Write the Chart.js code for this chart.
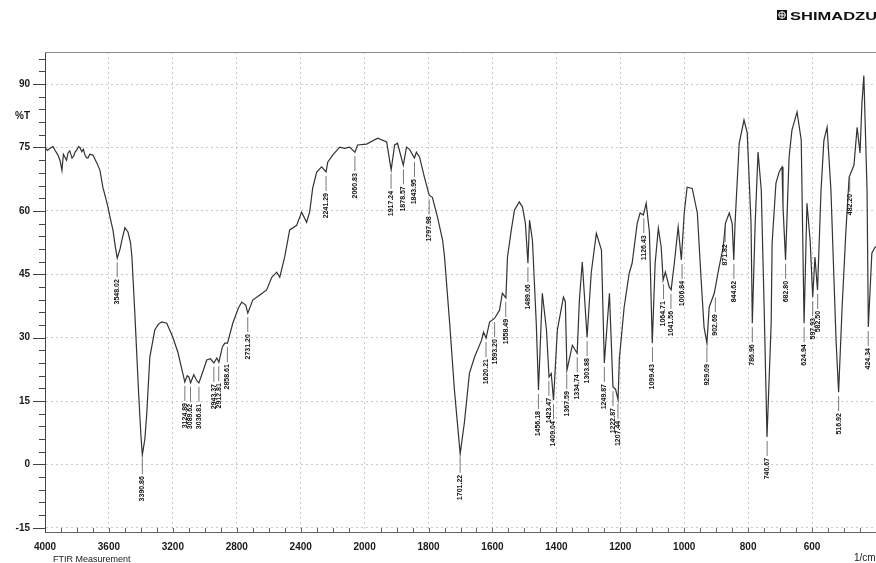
<!DOCTYPE html>
<html>
<head>
<meta charset="utf-8">
<script src="https://cdn.jsdelivr.net/npm/chart.js@4.4.0/dist/chart.umd.min.js"></script>
<style>
  html, body { margin: 0; padding: 0; background: #fff; }
  #wrap { position: relative; width: 876px; height: 563px; }
</style>
</head>
<body>
<div id="wrap"><canvas id="c"></canvas></div>
<script>
// spectrum (1/cm, %T)
const wavenumbers = [
  4000, 3985, 3969, 3950, 3938, 3919, 3905, 3894, 3885, 3875, 3865, 3856, 3845, 3831, 3820, 3812,
  3800, 3790, 3781, 3770, 3760, 3750, 3740, 3731, 3720, 3700, 3688, 3675, 3656, 3638, 3620, 3606,
  3590, 3575, 3560, 3548, 3530, 3519, 3500, 3481, 3465, 3456, 3438, 3413, 3400, 3391, 3375, 3363,
  3344, 3313, 3290, 3269, 3238, 3200, 3169, 3138, 3125, 3110, 3100, 3089, 3069, 3050, 3037, 3019,
  2988, 2965, 2943, 2925, 2912, 2890, 2875, 2858, 2825, 2790, 2769, 2744, 2731, 2700, 2656, 2613,
  2581, 2550, 2531, 2500, 2469, 2425, 2394, 2363, 2344, 2325, 2300, 2269, 2241, 2231, 2200, 2156,
  2125, 2094, 2061, 2044, 1994, 1959, 1931, 1917, 1906, 1897, 1879, 1869, 1859, 1844, 1838, 1828,
  1813, 1798, 1788, 1772, 1756, 1750, 1734, 1719, 1701, 1688, 1672, 1656, 1634, 1628, 1620, 1609,
  1593, 1578, 1569, 1558, 1553, 1541, 1531, 1516, 1506, 1497, 1489, 1484, 1475, 1463, 1456, 1444,
  1431, 1423, 1416, 1409, 1397, 1378, 1372, 1367, 1350, 1335, 1328, 1319, 1304, 1291, 1275, 1259,
  1250, 1234, 1223, 1215, 1207, 1203, 1188, 1172, 1163, 1147, 1138, 1128, 1119, 1109, 1100, 1091,
  1081, 1072, 1066, 1059, 1047, 1041, 1031, 1019, 1009, 1000, 991, 975, 959, 947, 938, 929,
  922, 906, 891, 878, 871, 859, 850, 845, 841, 834, 828, 813, 803, 791, 787, 778,
  769, 759, 750, 741, 728, 725, 713, 703, 694, 691, 683, 672, 663, 647, 634, 625,
  616, 606, 598, 591, 583, 572, 563, 553, 541, 525, 517, 506, 494, 484, 469, 459,
  450, 444, 438, 428, 424, 413, 403, 400
]
const transmittance = [
  75.0, 74.3, 74.8, 75.2, 74.4, 73.2, 71.8, 69.6, 73.4, 72.7, 72.0, 73.7, 74.2, 72.5, 73.0, 73.9,
  74.5, 75.2, 75.0, 74.0, 74.6, 73.2, 72.6, 72.5, 73.4, 73.2, 72.3, 71.3, 69.6, 65.6, 63.0, 60.9,
  58.0, 55.5, 51.5, 48.8, 51.0, 53.1, 56.0, 55.0, 52.5, 49.1, 35.8, 16.0, 7.0, 2.2, 6.0, 12.2,
  25.4, 31.8, 33.2, 33.7, 33.4, 30.1, 26.6, 21.6, 19.5, 21.0, 20.7, 19.3, 21.2, 19.8, 19.3, 21.2,
  24.7, 25.0, 24.0, 25.2, 24.2, 27.8, 28.7, 28.7, 33.4, 37.0, 38.4, 37.7, 35.8, 38.9, 40.1, 41.3,
  44.3, 45.5, 44.3, 49.1, 55.5, 56.6, 59.7, 57.3, 59.7, 65.4, 69.2, 70.4, 69.2, 71.5, 73.2, 75.1,
  74.8, 75.1, 73.9, 75.6, 75.8, 77.2, 76.3, 69.7, 75.6, 76.0, 70.8, 75.1, 74.5, 72.5, 73.9, 72.7,
  68.0, 63.7, 63.2, 58.5, 53.1, 49.1, 33.5, 17.6, 2.5, 9.8, 21.6, 25.4, 29.4, 31.3, 29.9, 33.7,
  34.6, 36.5, 40.5, 39.4, 49.1, 55.5, 60.2, 62.1, 60.9, 57.1, 47.6, 57.8, 53.1, 33.5, 17.6, 40.5,
  31.8, 20.7, 21.5, 15.2, 31.8, 39.6, 38.5, 22.3, 28.2, 26.3, 38.9, 47.9, 30.1, 45.3, 54.7, 50.7,
  24.0, 40.5, 18.3, 17.8, 15.3, 25.0, 37.2, 45.3, 47.6, 57.1, 59.5, 59.0, 61.8, 55.0, 28.7, 47.6,
  55.9, 51.4, 43.6, 45.5, 42.0, 41.3, 47.6, 56.2, 48.4, 59.5, 65.6, 65.3, 59.5, 43.6, 32.5, 28.7,
  37.2, 40.5, 46.7, 51.4, 57.1, 59.5, 57.0, 48.4, 57.1, 67.3, 76.0, 81.5, 78.5, 57.1, 33.4, 57.1,
  73.9, 65.0, 37.2, 6.5, 33.4, 52.4, 66.6, 69.2, 70.4, 61.0, 48.4, 72.7, 79.1, 83.4, 76.8, 33.4,
  61.8, 53.0, 39.6, 49.1, 41.3, 64.9, 76.7, 79.8, 64.9, 29.4, 17.1, 37.2, 55.5, 68.0, 70.8, 79.8,
  73.7, 85.5, 92.0, 64.9, 32.5, 50.0, 51.4, 51.5
]

// peak picks printed under the trace
const peakLabels = [
  '3548.02', '3390.86', '3124.89', '3089.62', '3036.81', '2943.37', '2912.81', '2858.61', '2731.20',
  '2241.29', '2060.83', '1917.24', '1878.57', '1843.95', '1797.98', '1701.22', '1620.21', '1593.20',
  '1558.49', '1489.06', '1456.18', '1423.47', '1409.04', '1367.59', '1334.74', '1303.88', '1249.87',
  '1222.87', '1207.44', '1126.43', '1099.43', '1064.71', '1041.56', '1006.84', '929.09', '902.69',
  '871.82', '844.62', '786.96', '740.67', '682.80', '624.94', '597.93', '582.50', '516.92',
  '482.20', '424.34'
]
const peakT = [
  48.8, 2.2, 19.5, 19.3, 19.3, 24.0, 24.2, 28.7, 35.8,
  69.2, 73.9, 69.7, 70.8, 72.5, 63.7, 2.5, 29.9, 34.6,
  39.4, 47.6, 17.6, 20.7, 15.2, 22.3, 26.3, 30.1, 24.0,
  18.3, 15.3, 59.2, 28.7, 43.6, 41.3, 48.4, 28.7, 40.5,
  57.1, 48.4, 33.4, 6.5, 48.4, 33.4, 39.6, 41.3, 17.1,
  69.0, 32.5
]

const xTicks = [4000, 3600, 3200, 2800, 2400, 2000, 1800, 1600, 1400, 1200, 1000, 800, 600]
const yTicks = [90, 75, 60, 45, 30, 15, 0, -15]

// Shimadzu abscissa: above 2000 1/cm the scale is compressed by half
const BREAK = 2000
class FtirScale extends Chart.LinearScale {
  buildTicks () { return xTicks.map(v => ({ value: v })) }
  _frac (v) {
    const hi = (this.max - BREAK) / 2
    const total = hi + (BREAK - this.min)
    return v >= BREAK ? (this.max - v) / 2 / total : (hi + BREAK - v) / total
  }
  getPixelForValue (v) { return this.left + this._frac(v) * this.width }
  getValueForPixel (p) {
    const hi = (this.max - BREAK) / 2
    const total = hi + (BREAK - this.min)
    const d = (p - this.left) / this.width * total
    return d <= hi ? this.max - d * 2 : BREAK - (d - hi)
  }
}
FtirScale.id = 'ftir'
FtirScale.defaults = {}
Chart.register(FtirScale)

const font = '"Liberation Sans", Arial, sans-serif'

const decor = {
  id: 'decor',
  beforeDatasetsDraw (chart) {
    const { ctx, chartArea: a, scales: { x, y } } = chart
    ctx.save()
    ctx.strokeStyle = '#8a8a8a'
    ctx.lineWidth = 1
    ctx.beginPath()
    ctx.moveTo(a.left, a.top + 0.5)
    ctx.lineTo(a.right, a.top + 0.5)
    ctx.stroke()

    // y ticks, major and minor
    ctx.strokeStyle = '#444'
    for (let v = -15; v <= 96; v += 3) {
      const py = Math.round(y.getPixelForValue(v)) + 0.5
      const len = v % 15 === 0 ? 12 : 6
      ctx.beginPath()
      ctx.moveTo(a.left - len, py)
      ctx.lineTo(a.left, py)
      ctx.stroke()
    }
    // x minor ticks
    ctx.strokeStyle = '#666'
    const minor = []
    for (let v = 3900; v > 2000; v -= 100) minor.push(v)
    for (let v = 1950; v > 400; v -= 50) minor.push(v)
    minor.forEach(v => {
      const px = Math.round(x.getPixelForValue(v)) + 0.5
      ctx.beginPath()
      ctx.moveTo(px, a.bottom)
      ctx.lineTo(px, a.bottom - 4)
      ctx.stroke()
    })

    ctx.fillStyle = '#1a1a1a'
    ctx.font = 'bold 10px ' + font
    ctx.textAlign = 'right'
    ctx.textBaseline = 'middle'
    ctx.fillText('%T', 30, y.getPixelForValue(82.5))

    ctx.textAlign = 'left'
    ctx.textBaseline = 'alphabetic'
    ctx.font = '9px ' + font
    ctx.fillText('FTIR Measurement', 53, 562)
    ctx.font = '10px ' + font
    ctx.fillText('1/cm', 854, 561)

    // logo
    ctx.fillStyle = '#111'
    ctx.fillRect(777, 10, 10, 10)
    ctx.strokeStyle = '#fff'
    ctx.lineWidth = 1
    ctx.beginPath()
    ctx.arc(782, 15, 3.3, 0, Math.PI * 2)
    ctx.moveTo(778.5, 15)
    ctx.lineTo(785.5, 15)
    ctx.moveTo(782, 11.5)
    ctx.lineTo(782, 18.5)
    ctx.stroke()
    ctx.fillStyle = '#111'
    ctx.save()
    ctx.translate(790, 20)
    ctx.scale(1.5, 1)
    ctx.font = 'bold 11px ' + font
    ctx.fillText('SHIMADZU', 0, 0)
    ctx.restore()
    ctx.restore()
  },
  afterDatasetsDraw (chart) {
    const { ctx, scales: { x, y } } = chart
    ctx.save()
    ctx.strokeStyle = '#555'
    ctx.fillStyle = '#111'
    ctx.lineWidth = 0.8
    ctx.font = 'bold 7px ' + font
    ctx.textAlign = 'right'
    ctx.textBaseline = 'middle'
    peakLabels.forEach((lab, i) => {
      const px = x.getPixelForValue(parseFloat(lab))
      const py = y.getPixelForValue(peakT[i])
      ctx.beginPath()
      ctx.moveTo(px, py + 4)
      ctx.lineTo(px, py + 19)
      ctx.stroke()
      ctx.save()
      ctx.translate(px, py + 21)
      ctx.rotate(-Math.PI / 2)
      ctx.fillText(lab, 0, 0)
      ctx.restore()
    })
    ctx.restore()
  }
}

const gridColor = 'rgba(150,150,150,0.5)'

new Chart(document.getElementById('c'), {
  type: 'line',
  data: {
    datasets: [{
      data: wavenumbers.map((w, i) => ({ x: w, y: transmittance[i] })),
      borderColor: '#333',
      borderWidth: 1.2,
      pointRadius: 0,
      tension: 0,
      fill: false
    }]
  },
  options: {
    responsive: true,
    maintainAspectRatio: false,
    animation: false,
    events: [],
    layout: { padding: { top: 52, left: 0, right: 0, bottom: 0 } },
    plugins: { legend: { display: false }, tooltip: { enabled: false } },
    scales: {
      x: {
        type: 'ftir',
        min: 400,
        max: 4000,
        afterFit: s => { s.height = 31 },
        grid: { color: gridColor, drawTicks: false },
        border: { color: '#666', dash: [2, 3] },
        ticks: {
          autoSkip: false,
          maxRotation: 0,
          padding: 9,
          color: '#1a1a1a',
          font: { family: font, size: 10, weight: 'bold' },
          callback: v => String(v)
        }
      },
      y: {
        min: -16,
        max: 97.6,
        afterFit: s => { s.width = 45 },
        afterBuildTicks: s => { s.ticks = yTicks.map(v => ({ value: v })) },
        grid: { color: gridColor, drawTicks: false },
        border: { color: '#444', dash: [2, 3] },
        ticks: {
          padding: 15,
          color: '#1a1a1a',
          font: { family: font, size: 10, weight: 'bold' },
          callback: v => String(v)
        }
      }
    }
  },
  plugins: [decor]
})
</script>
</body>
</html>
